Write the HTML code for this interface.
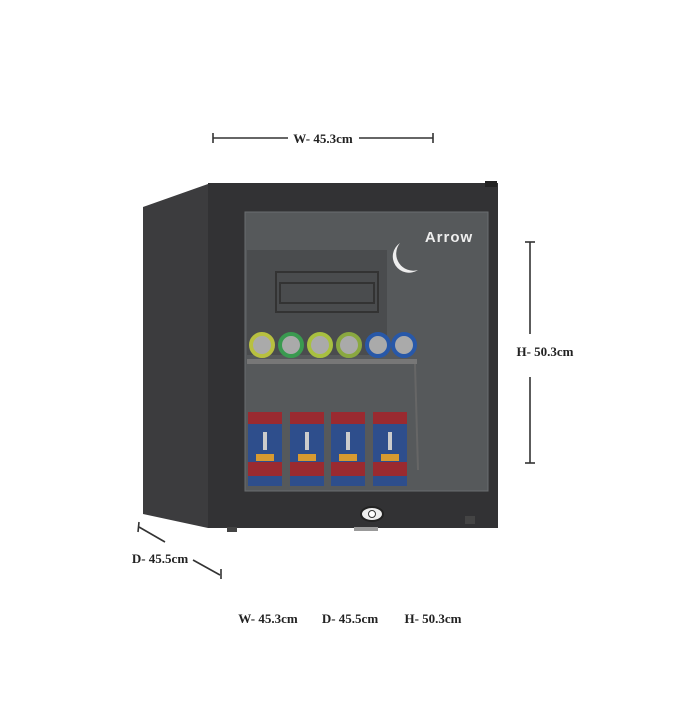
<!DOCTYPE html>
<html><head><style>
body{margin:0;background:#fff;}
svg text{font-family:"Liberation Serif",serif;fill:#222;}
</style></head><body>
<svg width="700" height="700" viewBox="0 0 700 700" xmlns="http://www.w3.org/2000/svg">
<rect width="700" height="700" fill="#fff"/>
<g stroke="#333" stroke-width="1.6">
<line x1="213" y1="138" x2="288" y2="138"/><line x1="359" y1="138" x2="433" y2="138"/>
<line x1="213" y1="133" x2="213" y2="143"/><line x1="433" y1="133" x2="433" y2="143"/>
<line x1="530" y1="242" x2="530" y2="334"/><line x1="530" y1="377" x2="530" y2="463"/>
<line x1="525" y1="242" x2="535" y2="242"/><line x1="525" y1="463" x2="535" y2="463"/>
<line x1="139" y1="527" x2="165" y2="542"/><line x1="193" y1="560" x2="220" y2="575"/>
<line x1="139" y1="522" x2="138" y2="532"/><line x1="221" y1="569" x2="221" y2="579"/>
</g>
<text x="323" y="143" font-size="13" text-anchor="middle" style="font-weight:600">W- 45.3cm</text>
<text x="545" y="356" font-size="13" text-anchor="middle" style="font-weight:600">H- 50.3cm</text>
<text x="160" y="563" font-size="13" text-anchor="middle" style="font-weight:600">D- 45.5cm</text>
<text x="268" y="623" font-size="13" text-anchor="middle" style="font-weight:600">W- 45.3cm</text>
<text x="350" y="623" font-size="13" text-anchor="middle" style="font-weight:600">D- 45.5cm</text>
<text x="433" y="623" font-size="13" text-anchor="middle" style="font-weight:600">H- 50.3cm</text>
<polygon points="143,207 208,184 208,528 143,514" fill="#3c3c3e"/>
<line x1="211" y1="266" x2="211" y2="448" stroke="#111" stroke-width="2"/>
<rect x="208" y="183" width="290" height="345" fill="#323234"/>
<rect x="485" y="181" width="12" height="6" fill="#222"/>
<rect x="245" y="212" width="243" height="279" fill="#56595b" stroke="#6a6d70" stroke-width="1"/>
<rect x="247" y="250" width="140" height="105" fill="#4a4c4e"/>
<rect x="276" y="272" width="102" height="40" fill="none" stroke="#333" stroke-width="2"/>
<rect x="280" y="283" width="94" height="20" fill="none" stroke="#333" stroke-width="2"/>
<text x="449" y="242" text-anchor="middle" style="font-family:'Liberation Sans',sans-serif;font-size:15px;fill:#eee;font-weight:bold;letter-spacing:1px">Arrow</text>
<path d="M400 243 A14 14 0 0 0 418 270 A17 17 0 0 1 400 243 Z" fill="#eee"/>
<rect x="247" y="359" width="170" height="5" fill="#777"/>
<line x1="415" y1="364" x2="418" y2="470" stroke="#666" stroke-width="2"/>
<g stroke-width="4">
<circle cx="262" cy="345" r="11" fill="#aaa" stroke="#b8c040"/>
<circle cx="291" cy="345" r="11" fill="#aaa" stroke="#3a9a50"/>
<circle cx="320" cy="345" r="11" fill="#aaa" stroke="#a8c040"/>
<circle cx="349" cy="345" r="11" fill="#aaa" stroke="#8aa840"/>
<circle cx="378" cy="345" r="11" fill="#aaa" stroke="#2858a8"/>
<circle cx="404" cy="345" r="11" fill="#aaa" stroke="#2858a8"/>
</g>
<g>
<rect x="248" y="412" width="34" height="74" fill="#2e4e8c"/>
<rect x="290" y="412" width="34" height="74" fill="#2e4e8c"/>
<rect x="331" y="412" width="34" height="74" fill="#2e4e8c"/>
<rect x="373" y="412" width="34" height="74" fill="#2e4e8c"/>
<g fill="#9a2a30">
<rect x="248" y="412" width="34" height="12"/><rect x="290" y="412" width="34" height="12"/><rect x="331" y="412" width="34" height="12"/><rect x="373" y="412" width="34" height="12"/>
<rect x="248" y="462" width="34" height="14"/><rect x="290" y="462" width="34" height="14"/><rect x="331" y="462" width="34" height="14"/><rect x="373" y="462" width="34" height="14"/>
</g>
<g fill="#ccc">
<rect x="263" y="432" width="4" height="18"/><rect x="305" y="432" width="4" height="18"/><rect x="346" y="432" width="4" height="18"/><rect x="388" y="432" width="4" height="18"/>
</g>
<g fill="#d89a30">
<rect x="256" y="454" width="18" height="7"/><rect x="298" y="454" width="18" height="7"/><rect x="339" y="454" width="18" height="7"/><rect x="381" y="454" width="18" height="7"/>
</g>
</g>
<ellipse cx="372" cy="514" rx="11" ry="7" fill="#eee" stroke="#222" stroke-width="2"/>
<circle cx="372" cy="514" r="3.5" fill="#fff" stroke="#333"/>
<rect x="227" y="527" width="10" height="5" fill="#444"/>
<rect x="465" y="516" width="10" height="8" fill="#444"/>
<rect x="354" y="527" width="24" height="4" fill="#999"/>
</svg>
</body></html>
